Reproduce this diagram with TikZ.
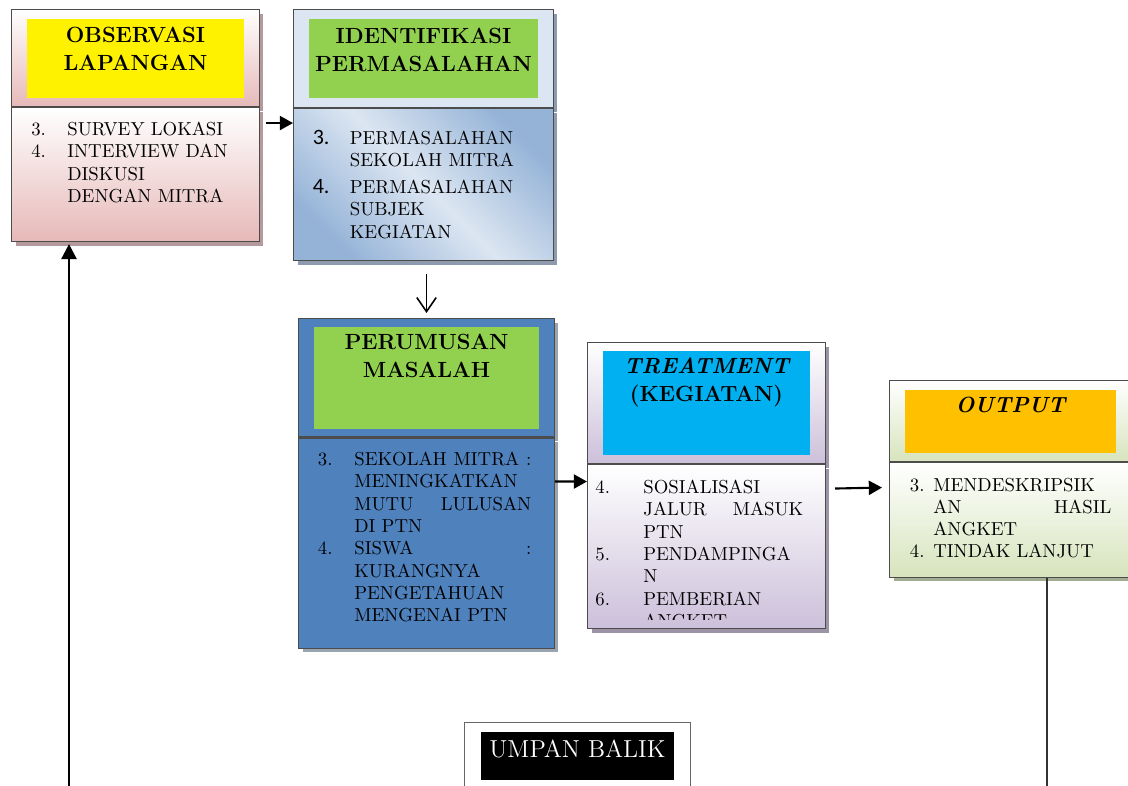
\documentclass[tikz,border=0pt]{standalone}
\usepackage{fontspec}
\newfontfamily\numfont{Carlito}
\usepackage{xcolor}
\usetikzlibrary{positioning,shadows,arrows.meta}

\definecolor{obspink}{HTML}{E6B9B8}
\definecolor{obsshade}{HTML}{B49A9A}
\definecolor{identlight}{HTML}{DCE6F2}
\definecolor{identdeep}{HTML}{95B3D7}
\definecolor{identshade}{HTML}{8E9BAE}
\definecolor{perumblue}{HTML}{4F81BD}
\definecolor{perumshade}{HTML}{9AA3B0}
\definecolor{titlegreen}{HTML}{92D050}
\definecolor{treatlilac}{HTML}{CCC0DA}
\definecolor{treatshade}{HTML}{9C93A6}
\definecolor{treatcyan}{HTML}{00B0F0}
\definecolor{outgreen}{HTML}{D7E4BD}
\definecolor{outshade}{HTML}{A3AD93}
\definecolor{outorange}{HTML}{FFC000}

\newcommand{\titlefont}{\fontsize{12.5}{15.9}\selectfont\bfseries}
\newcommand{\listfont}{\fontsize{10.7}{12.7}\selectfont}
\newcommand{\numsans}[1]{{\numfont\fontsize{12.5}{13}\selectfont #1}}
\newcommand{\spread}[2]{\makebox[#1][s]{#2}}

\tikzset{
  panel/.style={draw=black!70, line width=0.6pt, inner sep=0pt},
  boxshadow/.style={drop shadow={shadow xshift=0.08cm, shadow yshift=-0.08cm, fill=#1, opacity=1}},
  titlebox/.style={inner sep=0pt},
  titletext/.style={inner sep=0pt, align=center, font=\titlefont},
  listtext/.style={inner sep=0pt, anchor=north west, font=\listfont},
  flow/.style={line width=1.2pt, -{Triangle[length=7.5pt,width=8pt]}},
  downflow/.style={line width=0.9pt, -{Straight Barb[length=8pt,width=11pt]}},
  backflow/.style={line width=1.4pt, -{Triangle[length=8.5pt,width=8.5pt]}},
  backline/.style={line width=0.8pt, draw=black!80}
}

\begin{document}
\begin{tikzpicture}[x=0.02cm, y=-0.02cm]
    \useasboundingbox (0,0) rectangle (1128,785);

    %% Observasi lapangan
    \node[panel, boxshadow=obsshade, anchor=north west, minimum width=4.96cm, minimum height=1.94cm,
          top color=white, bottom color=obspink] (obshead) at (11,9) {};
    \node[panel, boxshadow=obsshade, minimum width=4.96cm, minimum height=2.68cm,
          top color=white, bottom color=obspink, below=0cm of obshead] (obsbody) {};
    \node[titlebox, fill=yellow, minimum width=4.34cm, minimum height=1.58cm] (obstitle) at (obshead.center) {};
    \node[titletext, below=0.17cm of obstitle.north] (obsname) {OBSERVASI\\LAPANGAN};
    \node[listtext] (obslist) at ([xshift=0.4cm, yshift=-0.25cm]obsbody.north west)
    {\begin{tabular}{@{}p{0.72cm}@{}l@{}}
        3. & SURVEY LOKASI\\
        4. & INTERVIEW DAN\\
           & DISKUSI\\
           & DENGAN MITRA
    \end{tabular}};

    %% Identifikasi permasalahan
    \node[panel, boxshadow=identshade, anchor=north west, minimum width=5.2cm, minimum height=1.96cm,
          fill=identlight] (identhead) at (293,9) {};
    \node[panel, boxshadow=identshade, minimum width=5.2cm, minimum height=3.04cm,
          left color=identdeep, right color=identdeep, middle color=identlight, shading angle=-45,
          below=0cm of identhead] (identbody) {};
    \node[titlebox, fill=titlegreen, minimum width=4.58cm, minimum height=1.58cm] (identtitle) at (identhead.center) {};
    \node[titletext, below=0.18cm of identtitle.north] (identname) {IDENTIFIKASI\\PERMASALAHAN};
    \node[listtext] (identlist) at ([xshift=0.39cm, yshift=-0.4cm]identbody.north west)
    {\begin{tabular}{@{}p{0.74cm}@{}l@{}}
        \numsans{3.} & PERMASALAHAN\\
                     & SEKOLAH MITRA\\[0.1cm]
        \numsans{4.} & PERMASALAHAN\\
                     & SUBJEK\\
                     & KEGIATAN
    \end{tabular}};

    %% Perumusan masalah
    \node[panel, boxshadow=perumshade, anchor=north west, minimum width=5.12cm, minimum height=2.37cm,
          fill=perumblue] (perumhead) at (298,318) {};
    \node[panel, boxshadow=perumshade, minimum width=5.12cm, minimum height=4.2cm,
          fill=perumblue, below=0cm of perumhead] (perumbody) {};
    \node[titlebox, fill=titlegreen, minimum width=4.5cm, minimum height=2.04cm] (perumtitle) at (perumhead.center) {};
    \node[titletext, below=0.14cm of perumtitle.north] (perumname) {PERUMUSAN\\MASALAH};
    \node[listtext] (perumlist) at ([xshift=0.39cm, yshift=-0.24cm]perumbody.north west)
    {\begin{tabular}{@{}p{0.73cm}@{}l@{}}
        3. & \spread{3.54cm}{SEKOLAH MITRA :}\\
           & MENINGKATKAN\\
           & \spread{3.54cm}{MUTU LULUSAN}\\
           & DI PTN\\
        4. & \spread{3.54cm}{SISWA :}\\
           & KURANGNYA\\
           & PENGETAHUAN\\
           & MENGENAI PTN
    \end{tabular}};

    %% Treatment
    \node[panel, boxshadow=treatshade, anchor=north west, minimum width=4.76cm, minimum height=2.42cm,
          top color=white, bottom color=treatlilac] (treathead) at (587,342) {};
    \node[panel, boxshadow=treatshade, minimum width=4.76cm, minimum height=3.28cm,
          top color=white, bottom color=treatlilac, below=0cm of treathead] (treatbody) {};
    \node[titlebox, fill=treatcyan, minimum width=4.16cm, minimum height=2.08cm] (treattitle) at (treathead.center) {};
    \node[titletext, below=0.14cm of treattitle.north] (treatname) {\itshape TREATMENT\\(KEGIATAN)};
    \begin{scope}
        \clip (treatbody.north west) rectangle ([yshift=0.2cm]treatbody.south east);
        \node[listtext] (treatlist) at ([xshift=0.16cm, yshift=-0.27cm]treatbody.north west)
        {\begin{tabular}{@{}p{0.96cm}@{}l@{}}
            4. & SOSIALISASI\\
               & \spread{3.2cm}{JALUR MASUK}\\
               & PTN\\
            5. & PENDAMPINGA\\
               & N\\
            6. & PEMBERIAN\\
               & ANGKET
        \end{tabular}};
    \end{scope}

    %% Output
    \node[panel, boxshadow=outshade, anchor=north west, minimum width=4.84cm, minimum height=1.62cm,
          top color=white, bottom color=outgreen] (outhead) at (889,380) {};
    \node[panel, boxshadow=outshade, minimum width=4.84cm, minimum height=2.29cm,
          top color=white, bottom color=outgreen, below=0cm of outhead] (outbody) {};
    \node[titlebox, fill=outorange, minimum width=4.22cm, minimum height=1.26cm] (outtitle) at (outhead.center) {};
    \node[titletext, below=0.16cm of outtitle.north] (outname) {\itshape OUTPUT};
    \node[listtext] (outlist) at ([xshift=0.41cm, yshift=-0.26cm]outbody.north west)
    {\begin{tabular}{@{}p{0.47cm}@{}l@{}}
        3. & MENDESKRIPSIK\\
           & \spread{3.56cm}{AN HASIL}\\
           & ANGKET\\
        4. & TINDAK LANJUT
    \end{tabular}};

    %% Umpan balik
    \node[panel, draw=black!60, fill=white, anchor=north west, minimum width=4.52cm, minimum height=1.6cm] (umpanbox) at (464,722) {};
    \node[titlebox, fill=black, anchor=north, minimum width=3.88cm, minimum height=0.95cm,
          below=0.2cm of umpanbox.north] (umpantitle) {};
    \node[inner sep=0pt, text=white, font=\fontsize{14}{16}\selectfont, below=0.16cm of umpantitle.north] (umpanname) {UMPAN BALIK};

    %% connectors
    \draw[flow] ([xshift=0.12cm, yshift=-0.32cm]obsbody.north east) -- ([yshift=-0.3cm]identbody.north west);
    \draw[downflow] ([yshift=-0.26cm]identbody.south -| perumhead.north) -- ([yshift=0.1cm]perumhead.north);
    \draw[flow] ([yshift=-0.88cm]perumbody.north east) -- ([yshift=-0.35cm]treatbody.north west);
    \draw[flow] ([xshift=0.18cm, yshift=-0.49cm]treatbody.north east) -- ([xshift=-0.14cm, yshift=-0.51cm]outbody.north west);

    \coordinate (outend) at (1047,790);
    \draw[backline] (outend |- outbody.south) -- (outend);
    \coordinate (fbstart) at (69,790);
    \draw[backflow] (fbstart) -- ([yshift=-0.04cm]fbstart |- obsbody.south);
\end{tikzpicture}
\end{document}
